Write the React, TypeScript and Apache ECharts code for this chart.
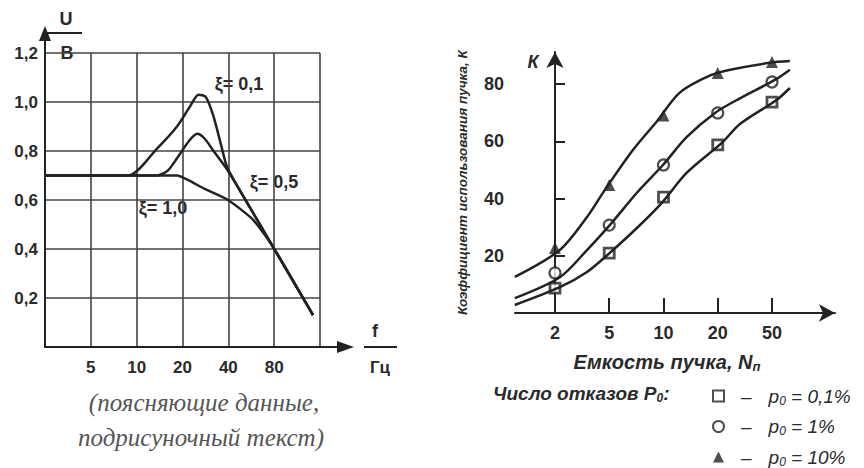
import React, { useEffect, useRef } from 'react';
import * as echarts from 'echarts';

// ---------- Left chart: U/B vs f (Гц), log2 frequency scale ----------
const freqTicks = [5, 10, 20, 40, 80];
const xiLabels = ['ξ= 0,1', 'ξ= 0,5', 'ξ= 1,0'];
// [f (Гц), U (В)]
const xi01: [number, number][] = [
  [2.5, 0.7], [8.8, 0.7], [13.6, 0.81], [18.4, 0.9], [22.3, 0.98], [25.5, 1.03],
  [28.5, 1.02], [32, 0.94], [36, 0.82], [39.5, 0.73], [55.4, 0.57], [78.4, 0.41], [144, 0.13],
];
const xi05: [number, number][] = [
  [2.5, 0.7], [13.6, 0.7], [16, 0.72], [18.4, 0.77], [22, 0.84], [25, 0.87],
  [28, 0.85], [32, 0.8], [39.7, 0.72], [55.4, 0.57], [78.4, 0.41], [144, 0.13],
];
const xi10: [number, number][] = [
  [2.5, 0.7], [18.4, 0.7], [22, 0.68], [28, 0.645], [39.8, 0.6], [58, 0.52], [78.4, 0.41], [144, 0.13],
];

// ---------- Right chart: K vs N (ordinal positions) ----------
const capacityTicks = ['2', '5', '10', '20', '50'];
const kTicks = [20, 40, 60, 80];
const markP01 = [8.7, 20.9, 40.5, 58.7, 73.7];
const markP1 = [14, 30.7, 51.7, 69.9, 80.7];
const markP10 = [22.7, 44.7, 69, 83.8, 87.7];
// [position on N axis (tick index), K]
const curveP01: [number, number][] = [
  [-0.74, 2.8], [0.09, 9], [0.59, 14.3], [1.01, 21], [1.51, 29.7], [1.97, 38.5],
  [2.43, 49], [3.08, 59.5], [3.41, 66], [4.09, 74.5], [4.33, 78.6],
];
const curveP1: [number, number][] = [
  [-0.74, 5.2], [0.09, 12.5], [0.59, 22], [1.01, 30.7], [1.51, 42], [1.99, 51.7],
  [2.43, 61.5], [2.95, 69.9], [3.41, 75], [4.06, 81.5], [4.33, 85],
];
const curveP10: [number, number][] = [
  [-0.74, 12.6], [0.09, 22], [0.59, 33.5], [0.92, 43], [1.44, 57], [1.88, 67],
  [2.3, 77], [2.86, 83], [3.23, 85], [3.96, 87.4], [4.33, 88],
];
const legendNames = ['p01', 'p1', 'p10'];
const legendTexts: Record<string, string> = {
  p01: '{d|–}{i|p}{s|0}{i| = 0,1%}',
  p1: '{d|–}{i|p}{s|0}{i| = 1%}',
  p10: '{d|–}{i|p}{s|0}{i| = 10%}',
};

const SANS = '"Liberation Sans", Arial, sans-serif';
const SERIF = '"Liberation Serif", "Times New Roman", serif';
const INK = '#222';
const TXT = '#2a2a2a';

const toPos = (f: number) => Math.log2(f / 2.5);

export default function App() {
  const ref = useRef<HTMLDivElement>(null);
  useEffect(() => {
    if (!ref.current) return;
    const chart = echarts.init(ref.current, undefined, { renderer: 'svg' });
    const lineSeries = (data: [number, number][], xi: number, smooth = 0.3) => ({
      type: 'line', xAxisIndex: xi, yAxisIndex: xi, data, smooth, showSymbol: false,
      silent: true, lineStyle: { color: INK, width: 2.5 },
    });
    const t = (x: number, y: number, text: string, extra: any = {}) => ({
      type: 'text', x, y, silent: true,
      style: {
        text, fill: TXT, fontFamily: SANS, fontSize: 18, fontWeight: 'bold',
        align: 'center', verticalAlign: 'middle', ...extra,
      },
    });
    const subRich = (size: number) => ({
      s: { fontSize: size, fontStyle: 'italic', fontWeight: 'bold', fontFamily: SANS, fill: TXT, padding: [9, 0, 0, 0] },
    });
    chart.setOption({
      animation: false,
      backgroundColor: '#fff',
      grid: [
        { left: 45, top: 53, width: 275, height: 294 },
        { left: 515, top: 52, width: 320, height: 261 },
      ],
      xAxis: [
        {
          gridIndex: 0, type: 'value', min: 0, max: 6, interval: 1,
          axisLine: { show: true, lineStyle: { color: INK, width: 2 } },
          axisTick: { show: false },
          axisLabel: {
            formatter: (v: number) => (v >= 1 && v <= 5 ? String(freqTicks[v - 1]) : ''),
            color: TXT, fontSize: 17, fontWeight: 'bold', fontFamily: SANS, margin: 12,
          },
          splitLine: { show: true, lineStyle: { color: '#444', width: 1.6 } },
        },
        {
          gridIndex: 1, type: 'value', min: -0.737, max: -0.737 + 320 / 54.25,
          axisLine: { show: true, symbol: ['none', 'arrow'], symbolSize: [13, 16], lineStyle: { color: INK, width: 2 } },
          axisTick: { show: true, inside: true, length: 15, customValues: [0, 1, 2, 3, 4], lineStyle: { color: INK, width: 2 } },
          axisLabel: {
            customValues: [0, 1, 2, 3, 4],
            formatter: (v: number) => capacityTicks[Math.round(v)] ?? '',
            color: TXT, fontSize: 18, fontWeight: 'bold', fontFamily: SANS, margin: 11,
          },
          splitLine: { show: false },
        },
      ],
      yAxis: [
        {
          gridIndex: 0, type: 'value', min: 0, max: 1.2, interval: 0.2,
          axisLine: { show: true, lineStyle: { color: INK, width: 2 } },
          axisTick: { show: false },
          axisLabel: {
            formatter: (v: number) => (v === 0 ? '' : v.toFixed(1).replace('.', ',')),
            color: TXT, fontSize: 17, fontWeight: 'bold', fontFamily: SANS, margin: 7,
          },
          splitLine: { show: true, lineStyle: { color: '#444', width: 1.6 } },
        },
        {
          gridIndex: 1, type: 'value', min: 0, max: 261 / 2.8625,
          name: 'Коэффициент использования пучка, К', nameLocation: 'middle', nameRotate: 90, nameGap: 46,
          nameTextStyle: { color: TXT, fontSize: 13.5, fontWeight: 'bold', fontStyle: 'italic', fontFamily: SANS },
          axisLine: { show: true, symbol: ['none', 'arrow'], symbolSize: [13, 16], lineStyle: { color: INK, width: 2 } },
          axisTick: { show: true, inside: true, length: 10, customValues: kTicks, lineStyle: { color: INK, width: 2 } },
          axisLabel: {
            customValues: kTicks, color: TXT, fontSize: 18, fontWeight: 'bold', fontFamily: SANS, margin: 11,
          },
          splitLine: { show: false },
        },
      ],
      legend: {
        data: legendNames, orient: 'vertical', left: 712, top: 386, padding: 0,
        itemWidth: 11, itemHeight: 11, itemGap: 10, selectedMode: false,
        formatter: (name: string) => legendTexts[name],
        textStyle: {
          color: TXT, fontSize: 19, fontFamily: SANS, lineHeight: 20,
          rich: {
            d: { fontSize: 19, fontFamily: SANS, color: TXT, padding: [0, 17, 0, 12] },
            i: { fontStyle: 'italic', fontSize: 19, fontFamily: SANS, color: TXT },
            s: { fontStyle: 'italic', fontSize: 12, fontFamily: SANS, color: TXT, padding: [9, 0, 0, 0] },
          },
        },
      },
      series: [
        lineSeries(xi01.map(([f, u]) => [toPos(f), u]), 0, 0.25),
        lineSeries(xi05.map(([f, u]) => [toPos(f), u]), 0, 0.25),
        lineSeries(xi10.map(([f, u]) => [toPos(f), u]), 0, 0.2),
        lineSeries(curveP01, 1),
        lineSeries(curveP1, 1),
        lineSeries(curveP10, 1),
        {
          name: 'p01', type: 'scatter', xAxisIndex: 1, yAxisIndex: 1, symbol: 'rect', symbolSize: 10,
          data: markP01.map((k, i) => [i, k]),
          itemStyle: { color: '#fff', borderColor: INK, borderWidth: 2.8 },
        },
        {
          name: 'p1', type: 'scatter', xAxisIndex: 1, yAxisIndex: 1, symbol: 'circle', symbolSize: 11,
          data: markP1.map((k, i) => [i, k]),
          itemStyle: { color: '#fff', borderColor: INK, borderWidth: 2.2 },
        },
        {
          name: 'p10', type: 'scatter', xAxisIndex: 1, yAxisIndex: 1, symbol: 'triangle', symbolSize: 12,
          data: markP10.map((k, i) => [i, k]),
          itemStyle: { color: INK },
        },
      ],
      graphic: [
        // left chart axis decorations
        { type: 'line', silent: true, shape: { x1: 45, y1: 53, x2: 45, y2: 38 }, style: { stroke: INK, lineWidth: 2 } },
        { type: 'polygon', silent: true, shape: { points: [[45, 26], [39, 41], [51, 41]] }, style: { fill: INK } },
        { type: 'line', silent: true, shape: { x1: 320, y1: 347, x2: 340, y2: 347 }, style: { stroke: INK, lineWidth: 2 } },
        { type: 'polygon', silent: true, shape: { points: [[354, 347], [337, 341], [337, 353]] }, style: { fill: INK } },
        { type: 'line', silent: true, shape: { x1: 45, y1: 33, x2: 82, y2: 33 }, style: { stroke: INK, lineWidth: 2 } },
        t(66, 19, 'U'),
        t(67, 53, 'В', { backgroundColor: '#fff', padding: [1, 7, 1, 7] }),
        { type: 'line', silent: true, shape: { x1: 364, y1: 347, x2: 397, y2: 347 }, style: { stroke: INK, lineWidth: 2 } },
        t(375, 331, 'f'),
        t(380, 367, 'Гц', { fontSize: 17 }),
        t(239, 84, xiLabels[0]),
        t(274, 182, xiLabels[1]),
        t(163, 208, xiLabels[2]),
        // caption
        t(204, 402, '(поясняющие данные,', { fontFamily: SERIF, fontStyle: 'italic', fontWeight: 'normal', fontSize: 25, fill: '#555' }),
        t(201, 437, 'подрисуночный текст)', { fontFamily: SERIF, fontStyle: 'italic', fontWeight: 'normal', fontSize: 25, fill: '#555' }),
        // right chart texts
        t(533, 62, 'К', { fontStyle: 'italic' }),
        t(667, 362, 'Емкость пучка, N{s|п}', { fontSize: 20, fontStyle: 'italic', rich: subRich(13) }),
        t(493, 393, 'Число отказов P{s|0}:', { fontSize: 19, fontStyle: 'italic', align: 'left', rich: subRich(12) }),
      ],
    });
    return () => chart.dispose();
  }, []);
  return <div ref={ref} style={{ position: 'fixed', left: 0, top: 0, width: 864, height: 468 }} />;
}
